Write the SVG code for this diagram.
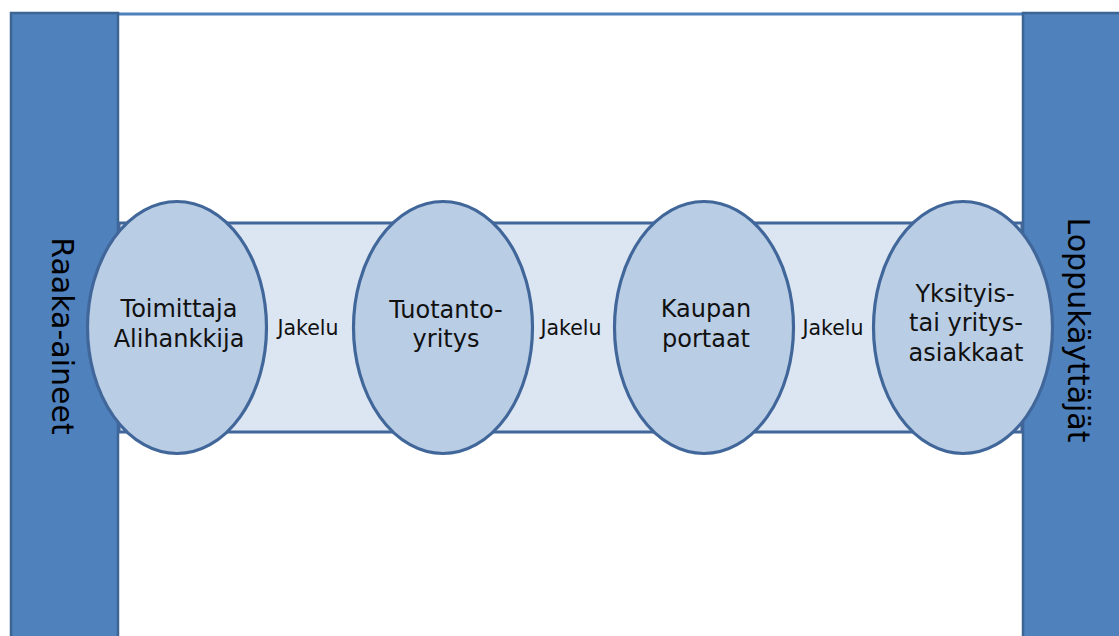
<svg xmlns="http://www.w3.org/2000/svg" width="1119" height="636" viewBox="0 0 1119 636">
<style>
.pillar{fill:#4f81bd;stroke:#3d6594;stroke-width:2.5}
.band{fill:#dce6f2;stroke:#41679a;stroke-width:3}
.node{fill:#b9cde5;stroke:#41679a;stroke-width:3.2}
.lbl{font-family:"DejaVu Sans",Verdana,sans-serif;font-size:24px;fill:#111;text-anchor:middle}
.jak{font-family:"DejaVu Sans",Verdana,sans-serif;font-size:20.5px;fill:#111;text-anchor:middle}
.vert{font-family:"DejaVu Sans",Verdana,sans-serif;font-size:30px;fill:#000;text-anchor:middle}
</style>
<rect width="1119" height="636" fill="#ffffff"/>
<line x1="118" y1="14" x2="1023" y2="14" stroke="#4f81bd" stroke-width="3"/>
<g id="raaka-aineet">
<rect class="pillar" x="11" y="13" width="107" height="640"/>
<text class="vert" transform="translate(52,336) rotate(90)">Raaka-aineet</text>
</g>
<g id="loppukayttajat">
<rect class="pillar" x="1023" y="13" width="110" height="640"/>
<text class="vert" transform="translate(1068,330) rotate(90)">Loppukäyttäjät</text>
</g>
<g id="connectors">
<rect class="band" x="119" y="223" width="903" height="209"/>
<text class="jak" x="308" y="335">Jakelu</text>
<text class="jak" x="571" y="335">Jakelu</text>
<text class="jak" x="833" y="335">Jakelu</text>
</g>
<g id="toimittaja">
<ellipse class="node" cx="177" cy="327.5" rx="89.5" ry="126"/>
<text class="lbl" x="179" y="317">Toimittaja</text>
<text class="lbl" x="179" y="347">Alihankkija</text>
</g>
<g id="tuotantoyritys">
<ellipse class="node" cx="443" cy="327.5" rx="89.5" ry="126"/>
<text class="lbl" x="446" y="318">Tuotanto-</text>
<text class="lbl" x="446" y="347">yritys</text>
</g>
<g id="kaupan-portaat">
<ellipse class="node" cx="704" cy="327.5" rx="89.5" ry="126"/>
<text class="lbl" x="706" y="317">Kaupan</text>
<text class="lbl" x="706" y="347">portaat</text>
</g>
<g id="asiakkaat">
<ellipse class="node" cx="963" cy="327.5" rx="89.5" ry="126"/>
<text class="lbl" x="965" y="302">Yksityis-</text>
<text class="lbl" x="966" y="331">tai yritys-</text>
<text class="lbl" x="966" y="361">asiakkaat</text>
</g>
</svg>
